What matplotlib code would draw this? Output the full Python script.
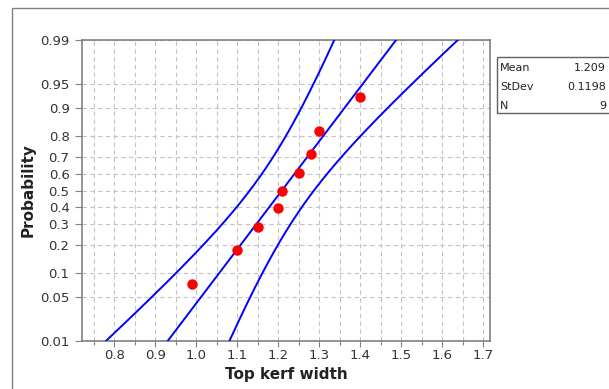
import matplotlib
matplotlib.use("Agg")
import matplotlib.pyplot as plt
from matplotlib.patches import Rectangle
from statistics import NormalDist
import numpy as np

# Sample measurements
top_kerf_width = [0.99, 1.10, 1.15, 1.20, 1.21, 1.25, 1.28, 1.30, 1.40]

# Probability axis ticks
prob_ticks = [0.01, 0.05, 0.1, 0.2, 0.3, 0.4, 0.5, 0.6, 0.7, 0.8, 0.9, 0.95, 0.99]
prob_labels = ["0.01", "0.05", "0.1", "0.2", "0.3", "0.4", "0.5", "0.6", "0.7",
               "0.8", "0.9", "0.95", "0.99"]
x_ticks = [0.8, 0.9, 1.0, 1.1, 1.2, 1.3, 1.4, 1.5, 1.6, 1.7]
x_tick_labels = ["0.8", "0.9", "1.0", "1.1", "1.2", "1.3", "1.4", "1.5", "1.6", "1.7"]

nd = NormalDist()
probit = np.vectorize(nd.inv_cdf)

data = np.sort(np.array(top_kerf_width))
n = len(data)
mean = data.mean()
sd = data.std(ddof=1)

# Median-rank plotting positions
ranks = np.arange(1, n + 1)
plot_pos = (ranks - 0.3) / (n + 0.4)
z_pts = probit(plot_pos)

# Fitted line and 95% confidence bands for percentiles
z_line = np.linspace(probit(0.01), probit(0.99), 300)
x_fit = mean + z_line * sd
half = 1.96 * sd / np.sqrt(n) * np.sqrt(1 + z_line ** 2 / 2)

W, H = 609, 389
fig = plt.figure(figsize=(W / 100, H / 100), dpi=100)
ax = fig.add_axes([82 / W, 1 - 341 / H, (490 - 82) / W, (341 - 40) / H])

ax.plot(x_fit, z_line, color="#0000ff", lw=1.4, zorder=3)
ax.plot(x_fit - half, z_line, color="#0000ff", lw=1.4, zorder=3)
ax.plot(x_fit + half, z_line, color="#0000ff", lw=1.4, zorder=3)
ax.plot(data, z_pts, "o", color="#ff0000", ms=7.5, mec="none", zorder=4)

ax.set_xlim(0.721, 1.717)
ax.set_ylim(probit(0.01), probit(0.99))

ax.set_yticks(probit(prob_ticks))
ax.set_yticklabels(prob_labels)
ax.set_xticks(x_ticks)
ax.set_xticklabels(x_tick_labels)
ax.set_xticks(np.arange(0.75, 1.71, 0.05), minor=True)

grid_kw = dict(color="#c4c4c4", linestyle=(0, (4, 3)), lw=0.8)
ax.grid(True, which="both", axis="x", **grid_kw)
ax.grid(True, which="major", axis="y", **grid_kw)
ax.set_axisbelow(True)

ax.tick_params(axis="y", which="major", length=5, width=0.8, color="#808080",
               labelsize=9.5, labelcolor="#333333", pad=4)
ax.tick_params(axis="x", which="major", length=4, width=0.8, color="#808080",
               labelsize=9.5, labelcolor="#333333", pad=2)
ax.tick_params(axis="x", which="minor", length=3, width=0.8, color="#808080")

for sp in ax.spines.values():
    sp.set_color("#808080")
    sp.set_linewidth(1.2)

ax.set_xlabel("Top kerf width", fontsize=11, fontweight="bold", color="#222222", labelpad=3)
ax.set_ylabel("Probability", fontsize=11, fontweight="bold", color="#222222", labelpad=3)

# Outer frame
fig.patches.append(Rectangle((12 / W, -0.1), 1.2, 1 - 8 / H + 0.1, transform=fig.transFigure,
                             fill=False, edgecolor="#808080", lw=1.0))

# Summary statistics box
fig.patches.append(Rectangle((497 / W, 1 - 113 / H), 0.3, (113 - 57) / H,
                             transform=fig.transFigure, fill=False,
                             edgecolor="#606060", lw=1.0))
stats = [("Mean", f"{mean:.3f}"), ("StDev", f"{sd:.4f}"), ("N", f"{n}")]
for i, (name, val) in enumerate(stats):
    y = 1 - (68 + i * 19) / H
    fig.text(500 / W, y, name, fontsize=8, color="#222222", va="center", ha="left")
    fig.text(606 / W, y, val, fontsize=8, color="#222222", va="center", ha="right")

fig.savefig("out.png", dpi=100)
